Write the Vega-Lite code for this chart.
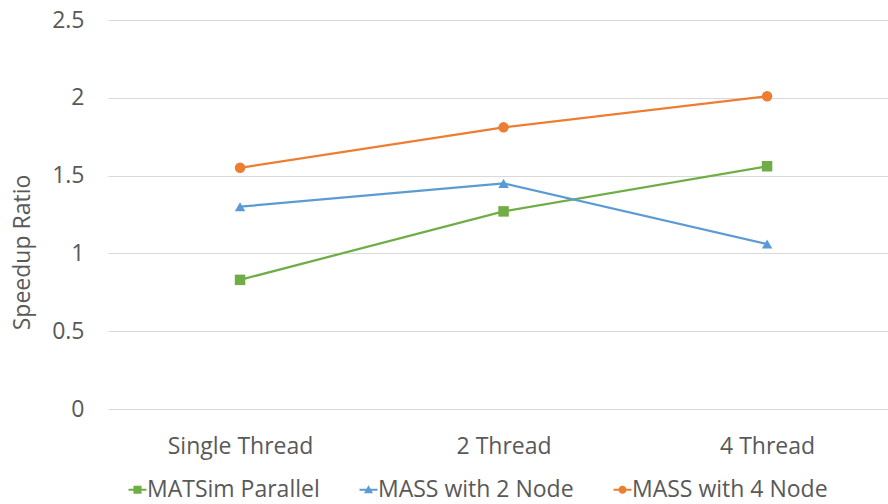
{
  "$schema": "https://vega.github.io/schema/vega-lite/v6.json",
  "width": 780,
  "height": 389,
  "autosize": {"type": "none"},
  "padding": {"left": 108, "top": 20, "right": 0, "bottom": 95},
  "config": {
    "view": {"stroke": null},
    "font": "Open Sans",
    "axis": {"labelFont": "Open Sans", "titleFont": "Open Sans", "labelColor": "#595959", "titleColor": "#595959"},
    "legend": {"labelFont": "Open Sans"}
  },
  "data": {
    "values": [
      {"config": "Single Thread", "series": "MATSim Parallel", "ratio": 0.83},
      {"config": "2 Thread", "series": "MATSim Parallel", "ratio": 1.27},
      {"config": "4 Thread", "series": "MATSim Parallel", "ratio": 1.56},
      {"config": "Single Thread", "series": "MASS with 2 Node", "ratio": 1.30},
      {"config": "2 Thread", "series": "MASS with 2 Node", "ratio": 1.45},
      {"config": "4 Thread", "series": "MASS with 2 Node", "ratio": 1.06},
      {"config": "Single Thread", "series": "MASS with 4 Node", "ratio": 1.55},
      {"config": "2 Thread", "series": "MASS with 4 Node", "ratio": 1.81},
      {"config": "4 Thread", "series": "MASS with 4 Node", "ratio": 2.01}
    ]
  },
  "encoding": {
    "x": {
      "field": "config", "type": "ordinal",
      "sort": ["Single Thread", "2 Thread", "4 Thread"],
      "scale": {"type": "point", "padding": 0.48, "align": 0.522},
      "axis": {"title": null, "labelAngle": 0, "labelFontSize": 23, "labelPadding": 26, "ticks": false, "domain": false, "grid": false}
    },
    "y": {
      "field": "ratio", "type": "quantitative",
      "scale": {"domain": [0, 2.5], "nice": false},
      "axis": {
        "title": "Speedup Ratio", "titleFontSize": 23, "titleFontWeight": "normal",
        "values": [0, 0.5, 1, 1.5, 2, 2.5], "format": "~g", "labelFontSize": 23, "labelPadding": 24,
        "ticks": false, "domain": false, "gridColor": "#D9D9D9", "gridWidth": 1.2,
        "titleX": -86, "titleY": 232, "titleAngle": -90, "titleBaseline": "middle", "titleAlign": "center"
      }
    }
  },
  "layer": [
    {
      "mark": {"type": "line", "strokeWidth": 2.25},
      "encoding": {
        "color": {
          "field": "series", "type": "nominal",
          "scale": {"domain": ["MATSim Parallel", "MASS with 2 Node", "MASS with 4 Node"], "range": ["#70AD47", "#5B9BD5", "#ED7D31"]},
          "legend": null
        }
      }
    },
    {
      "mark": {"type": "point", "filled": true, "size": 110, "opacity": 1},
      "encoding": {
        "color": {
          "field": "series", "type": "nominal",
          "scale": {"domain": ["MATSim Parallel", "MASS with 2 Node", "MASS with 4 Node"], "range": ["#70AD47", "#5B9BD5", "#ED7D31"]},
          "legend": null
        },
        "shape": {
          "field": "series", "type": "nominal",
          "scale": {"domain": ["MATSim Parallel", "MASS with 2 Node", "MASS with 4 Node"], "range": ["square", "triangle-up", "circle"]},
          "legend": null
        }
      }
    },
    {
      "mark": {"type": "point", "filled": true, "size": 0, "opacity": 1},
      "encoding": {
        "color": {
          "field": "series", "type": "nominal",
          "scale": {"domain": ["MATSim Parallel", "MASS with 2 Node", "MASS with 4 Node"], "range": ["#70AD47", "#5B9BD5", "#ED7D31"]},
          "legend": {
            "title": null, "orient": "none", "direction": "horizontal",
            "legendX": 18, "legendY": 458,
            "labelFontSize": 23, "labelColor": "#595959", "labelOffset": -2, "labelLimit": 0,
            "symbolSize": 324, "symbolStrokeWidth": 0,
            "columnPadding": 37
          }
        },
        "shape": {
          "field": "series", "type": "nominal",
          "scale": {"domain": ["MATSim Parallel", "MASS with 2 Node", "MASS with 4 Node"], "range": [
            "M-1,-0.12H1V0.12H-1Z M-0.45,-0.45H0.45V0.45H-0.45Z",
            "M-1,-0.12H1V0.12H-1Z M0,-0.5L0.5,0.4H-0.5Z",
            "M-1,-0.12H1V0.12H-1Z M0.45,0A0.45,0.45 0 1,1 -0.45,0A0.45,0.45 0 1,1 0.45,0Z"
          ]},
          "legend": {
            "title": null, "orient": "none", "direction": "horizontal",
            "legendX": 18, "legendY": 458,
            "labelFontSize": 23, "labelColor": "#595959", "labelOffset": -2, "labelLimit": 0,
            "symbolSize": 324, "symbolStrokeWidth": 0,
            "columnPadding": 37
          }
        }
      }
    }
  ],
  "resolve": {"scale": {"shape": "independent", "color": "independent"}}
}
